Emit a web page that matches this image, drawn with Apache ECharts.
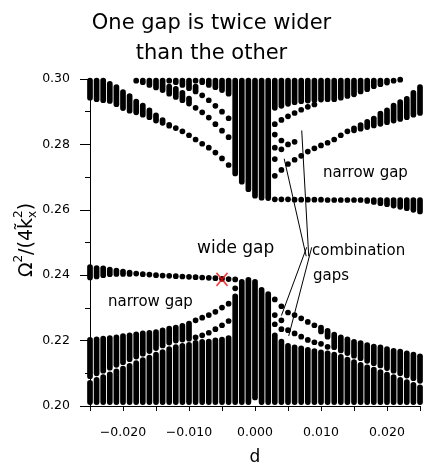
<!DOCTYPE html>
<html><head><meta charset="utf-8">
<script src="https://cdn.jsdelivr.net/npm/echarts@6/dist/echarts.min.js"></script>
<style>html,body{margin:0;padding:0;background:#fff}#c{width:423px;height:471px}</style>
</head><body><div id="c"></div>
<script>
// ---- data: each entry [d, lowest Ω², highest Ω²] of one band at one d ----
const xTicks = [-0.025,-0.02,-0.015,-0.01,-0.005,0,0.005,0.01,0.015,0.02,0.025];
const yTicks = [0.20,0.22,0.24,0.26,0.28,0.30];

// upper group, left of centre
const bandTopA = [[-0.025,0.2943,0.2995],[-0.024,0.2938,0.2995],[-0.023,0.2935,0.2995],[-0.022,0.2933,0.2985],[-0.021,0.2923,0.2975],[-0.020,0.2911,0.2960],[-0.019,0.2903,0.2948],[-0.018,0.2898,0.2931],[-0.017,0.2891,0.2919],[-0.016,0.2883,0.2904],[-0.015,0.2873,0.2889],[-0.014,0.2866,0.2874],[-0.013,0.2857,0.2860],[-0.012,0.2850,0.2850],[-0.011,0.2840,0.2840],[-0.010,0.2828,0.2828],[-0.009,0.2815,0.2815],[-0.008,0.2802,0.2802],[-0.007,0.2790,0.2790],[-0.006,0.2775,0.2775],[-0.005,0.2757,0.2757],[-0.004,0.2737,0.2737]];
const bandTopB = [[-0.018,0.2995,0.2995],[-0.017,0.2990,0.2995],[-0.016,0.2982,0.2995],[-0.015,0.2974,0.2995],[-0.014,0.2966,0.2995],[-0.013,0.2955,0.2977],[-0.012,0.2945,0.2970],[-0.011,0.2935,0.2958],[-0.010,0.2925,0.2940],[-0.009,0.2912,0.2912],[-0.008,0.2898,0.2898],[-0.007,0.2882,0.2882],[-0.006,0.2862,0.2862],[-0.005,0.2842,0.2842],[-0.004,0.2822,0.2822]];
const bandTopC = [[-0.013,0.2995,0.2995],[-0.012,0.2990,0.2995],[-0.011,0.2982,0.2995],[-0.010,0.2972,0.2995],[-0.009,0.2962,0.2977],[-0.008,0.2950,0.2950],[-0.007,0.2935,0.2935],[-0.006,0.2918,0.2918],[-0.005,0.2900,0.2900],[-0.004,0.2880,0.2880]];
const bandTopD = [[-0.009,0.2995,0.2995],[-0.008,0.2990,0.2995],[-0.007,0.2982,0.2995],[-0.006,0.2975,0.2995],[-0.005,0.2966,0.2995],[-0.004,0.2955,0.2995]];
// upper group, centre block
const bandTopBlock = [[-0.003,0.2711,0.2995],[-0.002,0.2686,0.2995],[-0.001,0.2663,0.2995],[0.000,0.2643,0.2995],[0.001,0.2637,0.2995],[0.002,0.2636,0.2995]];
// upper group, right of centre
const bandTopF = [[0.003,0.2912,0.2995],[0.004,0.2918,0.2995],[0.005,0.2924,0.2995],[0.006,0.2929,0.2995],[0.007,0.2932,0.2995],[0.008,0.2934,0.2995],[0.009,0.2936,0.2995],[0.010,0.2937,0.2995],[0.011,0.2938,0.2995],[0.012,0.2938,0.2995],[0.013,0.2943,0.2995],[0.014,0.2948,0.2995],[0.015,0.2953,0.2995],[0.016,0.2962,0.2995],[0.017,0.2969,0.2995],[0.018,0.2978,0.2995],[0.019,0.2984,0.2995],[0.020,0.2989,0.2995],[0.021,0.2995,0.2995],[0.022,0.2998,0.2998]];
const bandTopMid = [[0.003,0.2862,0.2862],[0.003,0.2830,0.2830],[0.003,0.2790,0.2790],[0.003,0.2755,0.2755],[0.004,0.2875,0.2875],[0.004,0.2812,0.2812],[0.004,0.2785,0.2785],[0.005,0.2886,0.2886],[0.005,0.2800,0.2800],[0.006,0.2896,0.2896],[0.006,0.2808,0.2808],[0.007,0.2906,0.2906],[0.008,0.2915,0.2915],[0.009,0.2922,0.2922]];
const bandTopE = [[0.003,0.2704,0.2704],[0.004,0.2722,0.2722],[0.005,0.2740,0.2740],[0.006,0.2753,0.2753],[0.007,0.2765,0.2765],[0.008,0.2778,0.2778],[0.009,0.2788,0.2788],[0.010,0.2797,0.2797],[0.011,0.2805,0.2805],[0.012,0.2815,0.2815],[0.013,0.2828,0.2828],[0.014,0.2840,0.2840],[0.015,0.2843,0.2849],[0.016,0.2848,0.2859],[0.017,0.2853,0.2869],[0.018,0.2858,0.2879],[0.019,0.2863,0.2894],[0.020,0.2868,0.2904],[0.021,0.2873,0.2919],[0.022,0.2878,0.2929],[0.023,0.2883,0.2939],[0.024,0.2891,0.2958],[0.025,0.2896,0.2975]];
const bandTopH = [[0.003,0.2632,0.2632],[0.004,0.2632,0.2632],[0.005,0.2632,0.2632],[0.006,0.2631,0.2631],[0.007,0.2631,0.2631],[0.008,0.2631,0.2631],[0.009,0.2631,0.2631],[0.010,0.2631,0.2631],[0.011,0.2630,0.2630],[0.012,0.2630,0.2630],[0.013,0.2630,0.2630],[0.014,0.2630,0.2630],[0.015,0.2630,0.2630],[0.016,0.2630,0.2630],[0.017,0.2627,0.2630],[0.018,0.2624,0.2630],[0.019,0.2620,0.2630],[0.020,0.2617,0.2630],[0.021,0.2613,0.2630],[0.022,0.2609,0.2630],[0.023,0.2605,0.2630],[0.024,0.2600,0.2630],[0.025,0.2595,0.2630]];

// lower group, left of centre
const bandLowL1 = [[-0.025,0.2393,0.2425],[-0.024,0.2396,0.2422],[-0.023,0.2400,0.2421],[-0.022,0.2403,0.2417],[-0.021,0.2404,0.2414],[-0.020,0.2404,0.2411],[-0.019,0.2404,0.2408],[-0.018,0.2405,0.2405],[-0.017,0.2403,0.2403],[-0.016,0.2402,0.2402],[-0.015,0.2400,0.2400],[-0.014,0.2399,0.2399],[-0.013,0.2398,0.2398],[-0.012,0.2397,0.2397],[-0.011,0.2396,0.2396],[-0.010,0.2395,0.2395],[-0.009,0.2394,0.2394],[-0.008,0.2393,0.2393],[-0.007,0.2392,0.2392],[-0.006,0.2391,0.2391],[-0.005,0.2389,0.2389],[-0.004,0.2388,0.2388],[-0.003,0.2387,0.2387]];
const bandLowQ = [[-0.025,0.2091,0.2202],[-0.024,0.2100,0.2204],[-0.023,0.2108,0.2206],[-0.022,0.2117,0.2208],[-0.021,0.2126,0.2210],[-0.020,0.2134,0.2214],[-0.019,0.2143,0.2216],[-0.018,0.2151,0.2219],[-0.017,0.2160,0.2222],[-0.016,0.2168,0.2224],[-0.015,0.2177,0.2226],[-0.014,0.2185,0.2231],[-0.013,0.2194,0.2237],[-0.012,0.2200,0.2240],[-0.011,0.2203,0.2245],[-0.010,0.2206,0.2252],[-0.009,0.2262,0.2262],[-0.008,0.2270,0.2270],[-0.007,0.2278,0.2278],[-0.006,0.2288,0.2288],[-0.005,0.2301,0.2301],[-0.004,0.2313,0.2313]];
const bandLowT2 = [[-0.009,0.2210,0.2210],[-0.008,0.2216,0.2216],[-0.007,0.2224,0.2224],[-0.006,0.2235,0.2235],[-0.005,0.2247,0.2247],[-0.004,0.2260,0.2260]];
const bandLowP = [[-0.025,0.2012,0.2071],[-0.024,0.2012,0.2080],[-0.023,0.2012,0.2088],[-0.022,0.2012,0.2097],[-0.021,0.2012,0.2106],[-0.020,0.2012,0.2114],[-0.019,0.2012,0.2123],[-0.018,0.2012,0.2131],[-0.017,0.2012,0.2140],[-0.016,0.2012,0.2148],[-0.015,0.2012,0.2157],[-0.014,0.2012,0.2165],[-0.013,0.2012,0.2174],[-0.012,0.2012,0.2180],[-0.011,0.2012,0.2184],[-0.010,0.2012,0.2187],[-0.009,0.2012,0.2193],[-0.008,0.2012,0.2196],[-0.007,0.2012,0.2197],[-0.006,0.2012,0.2201],[-0.005,0.2012,0.2203],[-0.004,0.2012,0.2208]];
// lower group, centre peak
const bandLowPeak = [[-0.003,0.2012,0.2335],[-0.003,0.2360,0.2360],[-0.002,0.2012,0.2380],[-0.001,0.2012,0.2386],[0.000,0.2026,0.2380],[0.001,0.2012,0.2355],[0.002,0.2012,0.2342]];
// lower group, right of centre
const bandLowPr = [[0.003,0.2012,0.2216],[0.004,0.2012,0.2197],[0.005,0.2012,0.2184],[0.006,0.2012,0.2179],[0.007,0.2012,0.2176],[0.008,0.2012,0.2172],[0.009,0.2012,0.2168],[0.010,0.2012,0.2164],[0.011,0.2012,0.2161],[0.012,0.2012,0.2157],[0.013,0.2012,0.2150],[0.014,0.2012,0.2142],[0.015,0.2012,0.2134],[0.016,0.2012,0.2126],[0.017,0.2012,0.2118],[0.018,0.2012,0.2111],[0.019,0.2012,0.2104],[0.020,0.2012,0.2096],[0.021,0.2012,0.2088],[0.022,0.2012,0.2080],[0.023,0.2012,0.2073],[0.024,0.2012,0.2065],[0.025,0.2012,0.2057]];
const bandLowU = [[0.003,0.2326,0.2326],[0.004,0.2305,0.2305],[0.005,0.2286,0.2286],[0.006,0.2278,0.2278],[0.007,0.2268,0.2268],[0.008,0.2257,0.2257],[0.009,0.2247,0.2247],[0.010,0.2228,0.2240],[0.011,0.2212,0.2230],[0.012,0.2180,0.2218],[0.013,0.2170,0.2210],[0.014,0.2162,0.2204],[0.015,0.2154,0.2196],[0.016,0.2146,0.2192],[0.017,0.2138,0.2186],[0.018,0.2131,0.2182],[0.019,0.2124,0.2179],[0.020,0.2116,0.2174],[0.021,0.2108,0.2169],[0.022,0.2100,0.2166],[0.023,0.2093,0.2161],[0.024,0.2085,0.2157],[0.025,0.2077,0.2152]];
const bandLowU2 = [[0.003,0.2278,0.2278],[0.003,0.2250,0.2250],[0.004,0.2262,0.2262],[0.004,0.2235,0.2235],[0.005,0.2232,0.2232],[0.006,0.2222,0.2222],[0.007,0.2212,0.2212],[0.008,0.2202,0.2202],[0.009,0.2195,0.2195],[0.010,0.2190,0.2190],[0.011,0.2181,0.2181]];

const markedPoint = [[-0.005, 0.2387]];
// annotation pointer lines: [from, to] in data units
const pointerLines = [
  [[0.00776,0.24580],[0.00442,0.27563]],
  [[0.00814,0.24580],[0.00708,0.28426]],
  [[0.00783,0.24853],[0.00400,0.22764]],
  [[0.00859,0.24853],[0.00511,0.22144]]
];
const notes = [
  {text:'wide gap', x:197, y:249, size:17},
  {text:'narrow gap', x:323, y:173, size:15},
  {text:'narrow gap', x:108, y:302, size:15},
  {text:'combination', x:312, y:251, size:15},
  {text:'gaps', x:313, y:276, size:15}
];

const allBands = [].concat(bandTopA, bandTopB, bandTopC, bandTopD, bandTopBlock, bandTopF, bandTopMid, bandTopE, bandTopH,
  bandLowL1, bandLowQ, bandLowT2, bandLowP, bandLowPeak, bandLowPr, bandLowU, bandLowU2);

const FF = '"DejaVu Sans", sans-serif';
function measure(txt, size){
  const ctx = document.createElement('canvas').getContext('2d');
  ctx.font = size + 'px "DejaVu Sans"';
  return ctx.measureText(txt).width;
}
// y-axis name pieces (rotated group)
const nameSize = 19, scriptSize = 12;
const pieces = [
  {t:'\u03A9', s:nameSize, dy:0},
  {t:'2', s:scriptSize, dy:-8},
  {t:'/(4k\u0303', s:nameSize, dy:0},
  {t:'2', s:scriptSize, dy:-8, stack:true},
  {t:'x', s:scriptSize, dy:6},
  {t:')', s:nameSize, dy:0}
];
let cx = 0; const placed = [];
for (let k = 0; k < pieces.length; k++) {
  const p = pieces[k];
  placed.push({t:p.t, s:p.s, dy:p.dy, x:cx});
  const w = measure(p.t, p.s);
  if (p.stack) { const w2 = measure(pieces[k+1].t, pieces[k+1].s); placed.push({t:pieces[k+1].t, s:pieces[k+1].s, dy:pieces[k+1].dy, x:cx}); cx += Math.max(w, w2); k++; }
  else cx += w;
}
const totalW = cx;
const yNameChildren = placed.map(p => ({type:'text', x:p.x - totalW/2, y:p.dy,
  style:{text:p.t, fontSize:p.s, fontFamily:FF, fill:'#000', align:'left', verticalAlign:'middle'}}));

const chart = echarts.init(document.getElementById('c'), null, {renderer:'canvas'});
chart.setOption({
  animation:false,
  backgroundColor:'#fff',
  title:{text:'One gap is twice wider\nthan the other', left:'center', top:4,
    textStyle:{fontFamily:FF, fontSize:21, fontWeight:'normal', lineHeight:30, color:'#000'}},
  grid:{left:90, right:3, top:79, bottom:62, containLabel:false},
  xAxis:{type:'value', min:-0.025, max:0.025, interval:0.005,
    name:'d', nameLocation:'middle', nameGap:43,
    nameTextStyle:{fontFamily:FF, fontSize:17, color:'#000'},
    axisLine:{show:true, onZero:false, lineStyle:{color:'#000', width:1}},
    axisTick:{show:true, length:5, lineStyle:{color:'#000'}},
    axisLabel:{fontFamily:FF, fontSize:12.5, color:'#000', margin:20, interval:0, showMinLabel:true, showMaxLabel:true,
      formatter:function(v){ const m = Math.round(v*1000); if (m % 10 !== 0) return ''; if (m === 0) return '0.000'; return (m < 0 ? '\u2212' : '') + Math.abs(v).toFixed(3); }},
    splitLine:{show:false}},
  yAxis:{type:'value', min:0.20, max:0.30, interval:0.02,
    axisLine:{show:true, onZero:false, lineStyle:{color:'#000', width:1}},
    axisTick:{show:true, length:10, lineStyle:{color:'#000'}},
    minorTick:{show:true, splitNumber:2, length:5, lineStyle:{color:'#000'}},
    axisLabel:{fontFamily:FF, fontSize:12.5, color:'#000', margin:20, formatter:v => v.toFixed(2)},
    splitLine:{show:false}},
  series:[
    {type:'custom', name:'bands', data:allBands, encode:{x:0, y:[1,2]}, silent:true, z:3,
      renderItem:function(params, api){
        const d = api.value(0), lo = api.value(1), hi = api.value(2);
        const p1 = api.coord([d, lo]), p2 = api.coord([d, hi]);
        if (Math.abs(p1[1]-p2[1]) < 0.5) {
          return {type:'circle', shape:{cx:p1[0], cy:(p1[1]+p2[1])/2, r:2.85}, style:{fill:'#000'}};
        }
        return {type:'line', shape:{x1:p1[0], y1:p1[1], x2:p2[0], y2:p2[1]},
          style:{stroke:'#000', lineWidth:5.7, lineCap:'round'}};
      }},
    {type:'scatter', name:'marker', data:markedPoint, z:5, silent:true,
      symbol:'path://M0,0L10,12M10,0L0,12', symbolSize:[11,13],
      itemStyle:{color:'rgba(0,0,0,0)', borderColor:'#ff0000', borderWidth:1.6},
      markLine:{silent:true, symbol:['none','none'], animation:false,
        lineStyle:{color:'#000', width:1, type:'solid'}, label:{show:false},
        emphasis:{disabled:true},
        data:pointerLines.map(l => [{coord:l[0]},{coord:l[1]}])}}
  ],
  graphic:[
    {type:'group', x:27, y:240, rotation:Math.PI/2, children:yNameChildren}
  ].concat(notes.map(n => ({type:'text', x:n.x, y:n.y, silent:true,
    style:{text:n.text, fontSize:n.size, fontFamily:FF, fill:'#000', align:'left', verticalAlign:'middle'}})))
});
</script></body></html>
